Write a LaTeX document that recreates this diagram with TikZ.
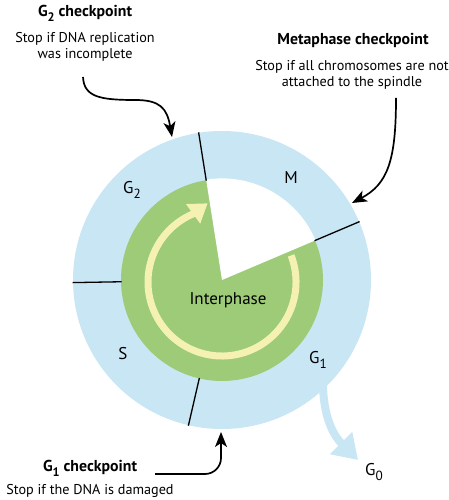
\documentclass[tikz,border=0pt]{standalone}
\usepackage{fontspec}
\setmainfont{PT Sans}
\usetikzlibrary{arrows.meta}
\definecolor{ringblue}{HTML}{C9E6F4}
\definecolor{cellgreen}{HTML}{9DCB78}
\definecolor{cycleyellow}{HTML}{F4F1B2}
\newcommand\subdig[1]{\raisebox{-0.32em}{\scalebox{0.78}{#1}}}
\begin{document}
\begin{tikzpicture}[x=1pt,y=1pt,
  txt/.style={font=\fontsize{14.2}{16}\selectfont, inner sep=0, align=center},
  hd/.style={font=\fontsize{15.8}{17}\selectfont\bfseries, inner sep=0},
  phase/.style={font=\fontsize{17}{19}\selectfont, inner sep=0},
  divider/.style={line width=1.3pt, black},
  chk/.style={line width=1.7pt, black, -{Stealth[length=15pt,width=12pt,inset=4pt]}},
  yarrow/.style={cycleyellow, line width=7pt, -{Triangle[length=18pt,width=23pt]}},
  garrow/.style={ringblue, line width=8pt, -{Triangle[length=24pt,width=30pt]}},
]
\useasboundingbox (0,0) rectangle (449,500);
\coordinate (C) at (222,220);
\coordinate (Y) at (222,218);
% rings
\fill[ringblue] (C) circle[radius=149];
\fill[cellgreen] (C) circle[radius=101];
\fill[white] (C) -- ++(23:101.6) arc[start angle=23,end angle=99,radius=101.6] -- cycle;
\foreach \a in {23,99,181,257}
  \draw[divider] ([shift={(\a:100.5)}]C) -- ([shift={(\a:149.5)}]C);
% interphase cycle arrow
\draw[yarrow] ([shift={(21:74)}]Y) arc[start angle=21,end angle=-247,radius=74] -- ++(36:18);
% G0 exit arrow
\coordinate (g1out) at (323,118);
\coordinate (g0tip) at (358,40);
\draw[garrow] (g1out) .. controls (323,82) and (334,64) .. (g0tip);
% phase labels
\node[phase] (lg2) at (132,310) {G\subdig{2}};
\node[phase] (lm) at (291,322) {M};
\node[phase] (ls) at (123,146) {S};
\node[phase] (lg1) at (318,140) {G\subdig{1}};
\node[phase] (lint) at (228,200) {Interphase};
\node[phase] (lg0) at (374,28) {G\subdig{0}};
% checkpoint texts
\node[hd] (g2head) at (85,487) {G\subdig{2} checkpoint};
\node[txt] (g2note) at (85,453) {Stop if DNA replication\\was incomplete};
\node[hd] (mhead) at (353,460) {Metaphase checkpoint};
\node[txt] (mnote) at (352,425) {Stop if all chromosomes are not\\attached to the spindle};
\node[hd] (g1head) at (90,32) {G\subdig{1} checkpoint};
\node[txt] (g1note) at (90,9) {Stop if the DNA is damaged};
% checkpoint arrows
\coordinate (g2start) at (83,423);
\coordinate (g2tip) at (172,363);
\draw[chk] (g2start) .. controls (84,403) and (100,400) .. (135,400) .. controls (160,400) and (167,392) .. (g2tip);
\coordinate (mstart) at (396,402);
\coordinate (mtip) at (352,297);
\draw[chk] (mstart) .. controls (396,340) and (388,316) .. (mtip);
\coordinate (g1start) at (155,26);
\coordinate (g1tip) at (221,68);
\draw[chk, rounded corners=16pt] (g1start) -- (221,26) -- (g1tip);
\end{tikzpicture}
\end{document}
